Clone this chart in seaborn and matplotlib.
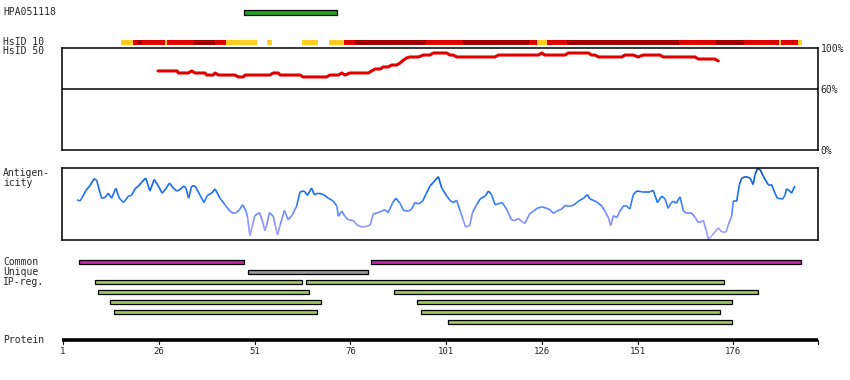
import numpy as np
import pandas as pd
import matplotlib
matplotlib.use("Agg")
from matplotlib import pyplot as plt
from matplotlib.collections import LineCollection
from matplotlib.colors import LinearSegmentedColormap
import seaborn as sns

# Protein axis
protein_length = 198
tick_residues = [1, 26, 51, 76, 101, 126, 151, 176]

# Antibody target region
hpa_name = "HPA051118"
hpa_start, hpa_end = 48.3, 72.5

# HsID 10 segments (0 = low, 1 = mid, 2 = high identity)
hsid10_start = [16.1, 19.3, 20.2, 21.5, 27.6, 28.2, 35.2, 40.7, 43.6, 54.3, 63.4, 70.5, 74.4, 77.2,
                95.8, 105.4, 122.7, 124.8, 127.4, 132.6, 161.8, 171.5, 178.8, 187.9, 188.5, 192.9]
hsid10_end = [19.3, 20.2, 21.5, 27.6, 28.2, 35.2, 40.7, 43.6, 51.7, 55.6, 67.6, 74.4, 77.2, 95.8,
              105.4, 122.7, 124.8, 127.4, 132.6, 161.8, 171.5, 178.8, 187.9, 188.5, 192.9, 193.9]
hsid10_level = [0, 1, 2, 1, 0, 1, 2, 1, 0, 0, 0, 0, 1, 2,
                1, 2, 1, 0, 1, 2, 1, 2, 1, 0, 1, 0]

# HsID 50 (% identity)
hs50_pos = [25.8, 30.8, 31.1, 33.7, 34.6, 35.5, 38.1, 38.5, 40.2, 40.7, 41.6, 45.9, 46.8, 48.1,
            48.5, 55.0, 55.9, 57.2, 57.7, 62.9, 63.7, 69.8, 70.7, 72.9, 73.8, 74.6, 75.9, 80.7,
            81.6, 82.5, 83.8, 84.6, 85.9, 86.8, 88.1, 89.0, 89.8, 90.7, 91.6, 93.8, 95.1, 96.8,
            97.7, 101.2, 102.0, 102.9, 103.8, 113.8, 114.7, 125.1, 126.0, 126.8, 132.1, 132.9,
            138.2, 139.0, 139.9, 140.8, 146.9, 147.7, 149.9, 151.2, 152.5, 156.9, 157.7, 166.0,
            166.9, 171.2, 172.1]
hs50_val = [77.5, 77.5, 75.5, 75.5, 77.5, 75.5, 75.5, 73.5, 73.5, 75.5, 73.5, 73.5, 71.6, 71.6,
            73.5, 73.5, 75.5, 75.5, 73.5, 73.5, 71.6, 71.6, 73.5, 73.5, 75.5, 73.5, 75.5, 75.5,
            77.5, 79.4, 79.4, 81.4, 81.4, 83.3, 83.3, 85.3, 87.9, 90.2, 91.2, 91.2, 93.1, 93.1,
            95.1, 95.1, 93.1, 93.1, 91.2, 91.2, 93.1, 93.1, 95.1, 93.1, 93.1, 95.1,
            95.1, 93.1, 93.1, 91.2, 91.2, 93.1, 93.1, 91.2, 93.1, 93.1, 91.2, 91.2,
            89.2, 89.2, 87.3]

# Antigenicity score (0-100 of panel height)
antigen_pos = [4.7, 5.4, 5.9, 7.0, 8.0, 9.1, 9.8, 10.7, 11.1, 12.0, 12.8, 13.7, 14.8, 15.7, 16.8,
               18.1, 18.9, 19.8, 20.7, 21.5, 22.6, 23.7, 24.8, 25.9, 26.9, 27.8, 28.8, 29.8, 30.7,
               31.5, 32.6, 33.1, 33.8, 34.6, 35.5, 36.8, 37.8, 38.7, 39.8, 40.7, 42.0, 43.3, 44.6,
               45.5, 46.3, 47.2, 47.9, 48.8, 49.2, 49.8, 50.4, 51.1, 52.3, 53.1, 53.7, 54.2, 54.9,
               55.9, 56.4, 57.0, 57.7, 58.8, 59.8, 60.9, 62.0, 62.9, 64.0, 64.8, 65.9, 66.6, 67.7,
               69.0, 70.3, 71.6, 72.5, 72.9, 73.8, 74.6, 75.5, 76.8, 77.7, 79.0, 80.3, 81.2, 82.0,
               83.3, 84.2, 85.1, 85.9, 87.1, 87.9, 89.0, 89.9, 91.2, 92.0, 92.9, 93.8, 94.9, 95.9,
               96.8, 97.7, 99.0, 99.9, 101.2, 102.2, 102.9, 103.8, 104.7, 105.5, 106.1, 107.2,
               107.9, 109.0, 109.9, 111.2, 112.1, 112.9, 113.8, 115.1, 115.8, 116.9, 118.1, 119.0,
               119.9, 120.7, 121.6, 122.8, 123.8, 124.8, 126.0, 127.3, 128.2, 129.0, 129.9, 131.2,
               132.1, 133.2, 134.2, 135.6, 136.9, 137.9, 138.6, 139.5, 140.3, 141.7, 142.5, 143.4,
               144.0, 144.7, 145.6, 146.4, 147.3, 148.2, 149.0, 149.9, 150.8, 152.1, 154.3, 155.1,
               156.2, 157.3, 158.2, 159.0, 159.7, 160.4, 161.1, 162.1, 163.0, 163.9, 165.2, 166.1,
               166.9, 167.8, 168.2, 168.9, 169.5, 170.4, 171.2, 172.1, 173.0, 174.1, 174.7, 175.6,
               176.0, 176.9, 177.6, 178.2, 179.3, 180.4, 181.2, 181.7, 182.3, 183.0, 183.8, 185.1,
               186.0, 186.9, 187.5, 188.9, 189.5, 189.9, 190.6, 191.2, 192.1]
antigen_val = [56, 54, 58, 69, 75, 85, 83, 65, 58, 59, 65, 58, 72, 58, 52,
               61, 62, 71, 75, 80, 86, 68, 84, 75, 65, 71, 79, 72, 68,
               70, 75, 72, 58, 75, 75, 62, 52, 62, 65, 71, 58, 49, 40,
               37, 38, 43, 49, 40, 31, 6, 19, 34, 38, 26, 13, 21, 38,
               33, 21, 7, 21, 41, 28, 35, 47, 67, 68, 62, 72, 63, 65,
               63, 58, 54, 47, 33, 40, 33, 28, 27, 21, 18, 19, 21, 36,
               38, 40, 42, 38, 52, 58, 51, 41, 40, 43, 52, 50, 54, 65,
               75, 80, 88, 72, 61, 54, 52, 55, 40, 28, 18, 20,
               38, 49, 57, 61, 68, 63, 49, 51, 51, 42, 28, 27,
               30, 26, 23, 36, 40, 44, 46, 44, 42, 37, 40, 43,
               48, 47, 48, 54, 58, 63, 57, 55, 53, 47, 40, 31,
               20, 34, 31, 40, 47, 47, 43, 63, 68, 67, 67, 69,
               52, 61, 57, 44, 51, 54, 51, 60, 40, 37, 37, 31,
               24, 26, 27, 14, 1, 6, 11, 17, 11, 11, 21, 33,
               54, 54, 77, 86, 88, 86, 77, 91, 99, 98, 89, 77,
               77, 65, 58, 57, 62, 71, 69, 65, 75]

# Feature tracks
common_start = [5.3, 81.5]
common_end = [48.3, 193.8]
unique_start = [49.4]
unique_end = [80.6]
ipreg_row = [0, 0, 1, 1, 2, 2, 3, 3, 4]
ipreg_start = [9.4, 64.5, 10.2, 87.5, 13.3, 93.5, 14.4, 94.6, 101.6]
ipreg_end = [63.5, 173.7, 65.3, 182.5, 68.4, 175.8, 67.4, 172.6, 175.8]

# ---- layout helpers (figure pixels) ----
W, H = 850, 380
PX_PER_RES = 3.83
X0 = 63


def res_at(px):
    return 1 + (px - X0) / PX_PER_RES


def rect(left, top, right, bottom):
    return [left / W, 1 - bottom / H, (right - left) / W, (bottom - top) / H]


sns.set_theme(style="white")
plt.rcParams["font.family"] = ["DejaVu Sans Mono"]
plt.rcParams["font.size"] = 7

fig = plt.figure(figsize=(8.5, 3.8), dpi=100)

# main axes covering the whole figure: x in residues, y in pixel rows
ax = fig.add_axes([0, 0, 1, 1])
ax.set_xlim(res_at(0), res_at(W))
ax.set_ylim(H, 0)
ax.axis("off")

edge = dict(edgecolor="black", linewidth=0.9)

# HPA target bar
ax.barh(12.5, hpa_end - hpa_start, left=hpa_start, height=4.5, color="#22a022", **edge)

# HsID 10 bar
hs10 = pd.DataFrame({"start": hsid10_start, "end": hsid10_end, "level": hsid10_level})
level_colors = {0: "#ffcc22", 1: "#e00000", 2: "#a00000"}
ax.barh(np.full(len(hs10), 42.5), hs10["end"] - hs10["start"], left=hs10["start"], height=5,
        color=[level_colors[l] for l in hs10["level"]], linewidth=0)

# Common / Unique / IP-reg tracks
ax.barh(np.full(len(common_start), 262), np.subtract(common_end, common_start), left=common_start,
        height=4, color="#cc22aa", **edge)
ax.barh(np.full(len(unique_start), 272), np.subtract(unique_end, unique_start), left=unique_start,
        height=4, color="#999999", **edge)
ax.barh(282 + 10 * np.array(ipreg_row), np.subtract(ipreg_end, ipreg_start), left=ipreg_start,
        height=4, color="#a0c860", **edge)

# Protein axis
ax.plot([res_at(62), res_at(818)], [340, 340], color="black", lw=2.6, solid_capstyle="butt")
for r in tick_residues:
    ax.plot([r, r], [340, 344], color="black", lw=0.8)
    ax.text(r, 347, str(r), ha="center", va="top", fontsize=6.5)
ax.plot([res_at(818)] * 2, [340, 344], color="black", lw=0.8)

# left labels
for txt, y in [(hpa_name, 12), ("HsID 10", 42), ("HsID 50", 51), ("Antigen-", 173), ("icity", 183),
               ("Common", 262), ("Unique", 272), ("IP-reg.", 282), ("Protein", 340)]:
    ax.text(res_at(3), y, txt, ha="left", va="center", fontsize=7)

# ---- HsID 50 panel ----
ax50 = fig.add_axes(rect(62, 48, 818, 150))
sns.lineplot(x=hs50_pos, y=hs50_val, ax=ax50, color="#e00000", lw=2.2)
ax50.axhline(60, color="black", lw=1.1)
ax50.set_xlim(res_at(62), res_at(818))
ax50.set_ylim(0, 100)
ax50.set_xticks([])
ax50.yaxis.tick_right()
ax50.set_yticks([0, 60, 100])
ax50.set_yticklabels(["0%", "60%", "100%"], fontsize=7)
ax50.tick_params(axis="y", length=0, pad=2)
for s in ax50.spines.values():
    s.set_color("black")
    s.set_linewidth(1.1)

# ---- Antigenicity panel ----
axag = fig.add_axes(rect(62, 168, 818, 240))
cmap = LinearSegmentedColormap.from_list(
    "antigen", [(0.0, "#b0a4ff"), (0.25, "#8c90ff"), (0.45, "#4f86ff"),
                (0.6, "#1f72f4"), (0.82, "#1066e0"), (1.0, "#004a98")])
pts = np.column_stack([antigen_pos, antigen_val])
segs = np.stack([pts[:-1], pts[1:]], axis=1)
lc = LineCollection(segs, cmap=cmap, norm=plt.Normalize(0, 100), linewidth=1.2)
lc.set_array((np.array(antigen_val[:-1]) + np.array(antigen_val[1:])) / 2)
axag.add_collection(lc)
axag.set_xlim(res_at(62), res_at(818))
axag.set_ylim(0, 100)
axag.set_xticks([])
axag.set_yticks([])
for s in axag.spines.values():
    s.set_color("black")
    s.set_linewidth(1.1)

plt.savefig("out.png", dpi=100)
